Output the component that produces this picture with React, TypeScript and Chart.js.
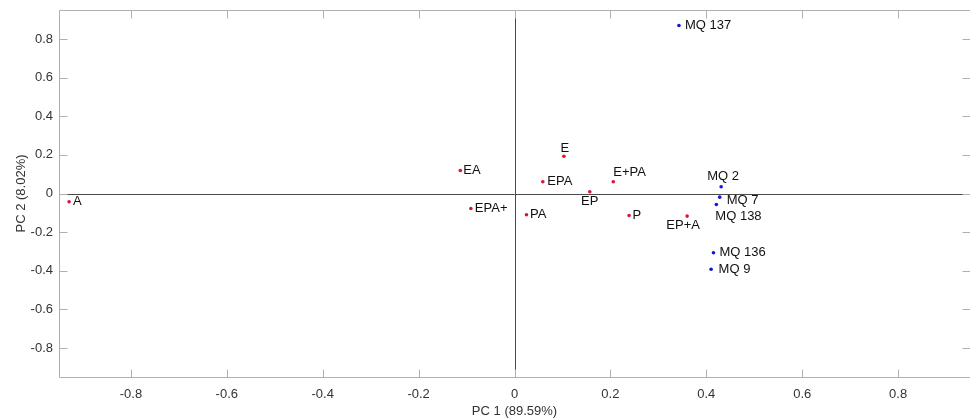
import React, { useEffect, useRef } from "react";
import { Chart, registerables } from "chart.js";

Chart.register(...registerables);

const sampleNames = ["A", "EA", "EPA+", "E", "EPA", "PA", "EP", "E+PA", "P", "EP+A"];
const sampleX = [-0.929, -0.113, -0.091, 0.103, 0.059, 0.025, 0.157, 0.206, 0.239, 0.36];
const sampleY = [-0.043, 0.119, -0.078, 0.193, 0.061, -0.11, 0.009, 0.061, -0.114, -0.117];

const sensorNames = ["MQ 137", "MQ 2", "MQ 7", "MQ 138", "MQ 136", "MQ 9"];
const sensorX = [0.343, 0.431, 0.428, 0.421, 0.415, 0.41];
const sensorY = [0.87, 0.035, -0.019, -0.057, -0.307, -0.392];

const tickValues = [-0.8, -0.6, -0.4, -0.2, 0, 0.2, 0.4, 0.6, 0.8];
const xTitle = "PC 1 (89.59%)";
const yTitle = "PC 2 (8.02%)";

// label placement (style only): [dx, dy, align]
const placement: Record<string, [number, number, CanvasTextAlign]> = {
  A: [4, 0, "left"],
  EA: [3, 0, "left"],
  "EPA+": [4, 0, "left"],
  E: [1, -8, "center"],
  EPA: [4.5, 0, "left"],
  PA: [3.5, 0, "left"],
  EP: [0, 10, "center"],
  "E+PA": [0, -9, "left"],
  P: [3.5, 0, "left"],
  "EP+A": [-4, 9.5, "center"],
  "MQ 137": [6, 0, "left"],
  "MQ 2": [2, -10, "center"],
  "MQ 7": [7, 3, "left"],
  "MQ 138": [-1, 12, "left"],
  "MQ 136": [6, 0, "left"],
  "MQ 9": [7.5, 0, "left"],
};

const FONT = "'Liberation Sans', Arial, sans-serif";

const boxPlugin = {
  id: "boxPlugin",
  afterDatasetsDraw(chart: any) {
    const { ctx, chartArea: a, scales } = chart;
    const xs = scales.x;
    const ys = scales.y;
    ctx.save();
    ctx.strokeStyle = "#4a4a4a";
    ctx.lineWidth = 1;
    const x0 = Math.round(xs.getPixelForValue(0)) + 0.5;
    const y0 = Math.round(ys.getPixelForValue(0)) + 0.5;
    ctx.beginPath();
    ctx.moveTo(x0, a.top);
    ctx.lineTo(x0, a.bottom);
    ctx.moveTo(a.left, y0);
    ctx.lineTo(a.right, y0);
    ctx.stroke();
    ctx.strokeStyle = "#b0b0b0";
    ctx.beginPath();
    const L = Math.round(a.left) + 0.5;
    const R = Math.round(a.right) + 0.5;
    const T = Math.round(a.top) + 0.5;
    const B = Math.round(a.bottom) + 0.5;
    ctx.rect(L, T, R - L, B - T);
    const tl = 8;
    tickValues.forEach((v) => {
      const px = Math.round(xs.getPixelForValue(v)) + 0.5;
      ctx.moveTo(px, B);
      ctx.lineTo(px, B - tl);
      ctx.moveTo(px, T);
      ctx.lineTo(px, T + tl);
      const py = Math.round(ys.getPixelForValue(v)) + 0.5;
      ctx.moveTo(L, py);
      ctx.lineTo(L + tl, py);
      ctx.moveTo(R, py);
      ctx.lineTo(R - tl, py);
    });
    ctx.stroke();
    ctx.fillStyle = "#111";
    ctx.font = `13px ${FONT}`;
    ctx.textBaseline = "middle";
    chart.data.datasets.forEach((ds: any) => {
      ds.data.forEach((pt: any) => {
        const [dx, dy, align] = placement[pt.label] || [4, 0, "left"];
        ctx.textAlign = align;
        ctx.fillText(pt.label, xs.getPixelForValue(pt.x) + dx, ys.getPixelForValue(pt.y) + dy);
      });
    });
    ctx.restore();
  },
};

export default function App() {
  const ref = useRef<HTMLCanvasElement>(null);
  useEffect(() => {
    if (!ref.current) return;
    const chart = new Chart(ref.current, {
      type: "scatter",
      data: {
        datasets: [
          {
            label: "samples",
            data: sampleNames.map((n, i) => ({ x: sampleX[i], y: sampleY[i], label: n })),
            backgroundColor: "#dc1430",
            borderWidth: 0,
            pointRadius: 1.8,
          },
          {
            label: "sensors",
            data: sensorNames.map((n, i) => ({ x: sensorX[i], y: sensorY[i], label: n })),
            backgroundColor: "#1414e0",
            borderWidth: 0,
            pointRadius: 1.8,
          },
        ],
      },
      options: {
        animation: false,
        responsive: false,
        maintainAspectRatio: false,
        layout: { autoPadding: false, padding: { top: 10, right: 0, left: 0, bottom: 0 } },
        plugins: { legend: { display: false }, tooltip: { enabled: false }, title: { display: false } },
        scales: {
          x: {
            type: "linear",
            min: -0.95,
            max: 0.95,
            afterBuildTicks: (s: any) => {
              s.ticks = tickValues.map((v) => ({ value: v }));
            },
            afterFit: (s: any) => {
              s.height = 42;
              s.paddingLeft = 0;
              s.paddingRight = 0;
            },
            grid: { display: false, drawTicks: false },
            border: { display: false },
            ticks: {
              padding: 10,
              color: "#333",
              font: { family: FONT, size: 13 },
              maxRotation: 0,
              callback: (v: any) => String(Math.round(Number(v) * 10) / 10),
            },
            title: {
              display: true,
              text: xTitle,
              color: "#333",
              font: { family: FONT, size: 13 },
              padding: { top: 0, bottom: 0 },
            },
          },
          y: {
            type: "linear",
            min: -0.95,
            max: 0.95,
            afterBuildTicks: (s: any) => {
              s.ticks = tickValues.map((v) => ({ value: v }));
            },
            afterFit: (s: any) => {
              s.width = 59;
              s.paddingTop = 0;
              s.paddingBottom = 0;
            },
            grid: { display: false, drawTicks: false },
            border: { display: false },
            ticks: {
              padding: 6,
              color: "#333",
              font: { family: FONT, size: 13 },
              callback: (v: any) => String(Math.round(Number(v) * 10) / 10),
            },
            title: {
              display: true,
              text: yTitle,
              color: "#333",
              font: { family: FONT, size: 13 },
              padding: { top: 14, bottom: 0 },
            },
          },
        },
      } as any,
      plugins: [boxPlugin],
    });
    return () => chart.destroy();
  }, []);
  return (
    <div style={{ position: "absolute", left: 0, top: 0, width: 970, height: 419, background: "#fff" }}>
      <canvas ref={ref} width={970} height={419} style={{ width: 970, height: 419 }} />
    </div>
  );
}
